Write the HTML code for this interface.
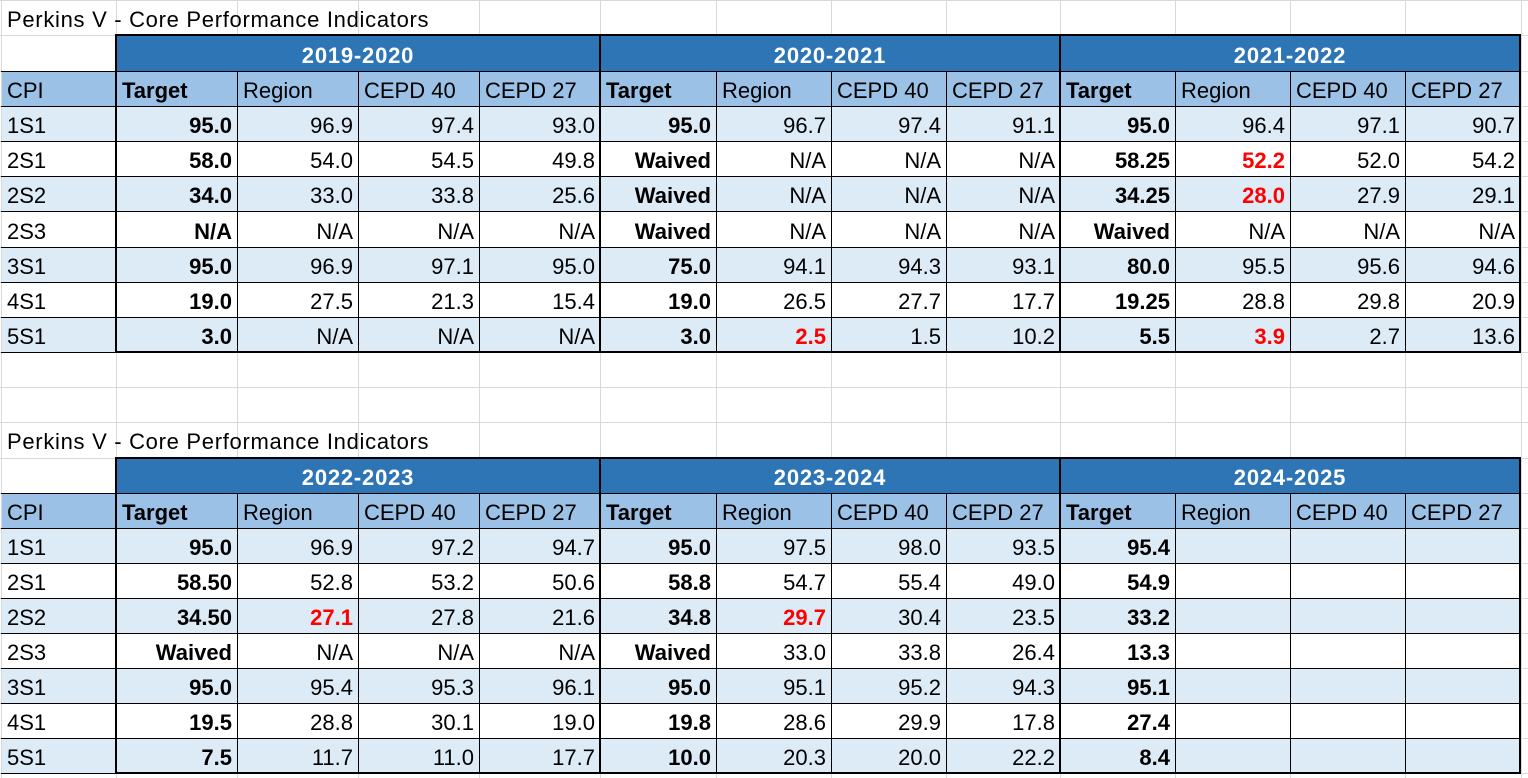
<!DOCTYPE html>
<html>
<head>
<meta charset="utf-8">
<style>
html,body{margin:0;padding:0;background:#fff;}
svg{display:block;}
text{font-family:"Liberation Sans",Arial,sans-serif;font-size:22px;fill:#000;}
.t{letter-spacing:0.7px;}
.b{font-weight:bold;}
.r{font-weight:bold;fill:#ff0000;}
.y{font-weight:bold;fill:#fff;letter-spacing:0.8px;}
</style>
</head>
<body>
<svg width="1528" height="778" xmlns="http://www.w3.org/2000/svg">
<rect width="1528" height="778" fill="#fff"/>
<!-- excel gridlines -->
<g fill="#d9d9d9" shape-rendering="crispEdges">
<rect x="0" y="0" width="1528" height="1"/>
<rect x="0" y="35" width="1528" height="1"/>
<rect x="0" y="71" width="1528" height="1"/>
<rect x="0" y="106" width="1528" height="1"/>
<rect x="0" y="141" width="1528" height="1"/>
<rect x="0" y="176" width="1528" height="1"/>
<rect x="0" y="211" width="1528" height="1"/>
<rect x="0" y="247" width="1528" height="1"/>
<rect x="0" y="282" width="1528" height="1"/>
<rect x="0" y="317" width="1528" height="1"/>
<rect x="0" y="352" width="1528" height="1"/>
<rect x="0" y="387" width="1528" height="1"/>
<rect x="0" y="422" width="1528" height="1"/>
<rect x="0" y="458" width="1528" height="1"/>
<rect x="0" y="493" width="1528" height="1"/>
<rect x="0" y="528" width="1528" height="1"/>
<rect x="0" y="563" width="1528" height="1"/>
<rect x="0" y="598" width="1528" height="1"/>
<rect x="0" y="633" width="1528" height="1"/>
<rect x="0" y="668" width="1528" height="1"/>
<rect x="0" y="703" width="1528" height="1"/>
<rect x="0" y="738" width="1528" height="1"/>
<rect x="0" y="773" width="1528" height="1"/>
<rect x="1" y="0" width="1" height="778"/>
<rect x="116" y="0" width="1" height="778"/>
<rect x="237" y="0" width="1" height="778"/>
<rect x="358" y="0" width="1" height="778"/>
<rect x="479" y="0" width="1" height="778"/>
<rect x="600" y="0" width="1" height="778"/>
<rect x="716" y="0" width="1" height="778"/>
<rect x="831" y="0" width="1" height="778"/>
<rect x="946" y="0" width="1" height="778"/>
<rect x="1060" y="0" width="1" height="778"/>
<rect x="1175" y="0" width="1" height="778"/>
<rect x="1290" y="0" width="1" height="778"/>
<rect x="1405" y="0" width="1" height="778"/>
<rect x="1521" y="0" width="1" height="778"/>
</g>
<!-- fills -->
<g shape-rendering="crispEdges">
<rect x="116" y="35" width="1404" height="36" fill="#2e75b6"/>
<rect x="2" y="71" width="1518" height="35" fill="#9bc2e6"/>
<rect x="2" y="106" width="1518" height="35" fill="#ddebf7"/>
<rect x="2" y="176" width="1518" height="35" fill="#ddebf7"/>
<rect x="2" y="247" width="1518" height="35" fill="#ddebf7"/>
<rect x="2" y="317" width="1518" height="35" fill="#ddebf7"/>
<rect x="116" y="458" width="1404" height="35" fill="#2e75b6"/>
<rect x="2" y="493" width="1518" height="35" fill="#9bc2e6"/>
<rect x="2" y="528" width="1518" height="35" fill="#ddebf7"/>
<rect x="2" y="598" width="1518" height="35" fill="#ddebf7"/>
<rect x="2" y="668" width="1518" height="35" fill="#ddebf7"/>
<rect x="2" y="738" width="1518" height="35" fill="#ddebf7"/>
</g>
<!-- borders upper -->
<g fill="#000" shape-rendering="crispEdges">
<rect x="115" y="34" width="1406" height="2"/>
<rect x="1" y="71" width="1519" height="1"/>
<rect x="1" y="106" width="1519" height="1"/>
<rect x="1" y="141" width="1519" height="1"/>
<rect x="1" y="176" width="1519" height="1"/>
<rect x="1" y="211" width="1519" height="1"/>
<rect x="1" y="247" width="1519" height="1"/>
<rect x="1" y="282" width="1519" height="1"/>
<rect x="1" y="317" width="1519" height="1"/>
<rect x="1" y="352" width="115" height="1"/>
<rect x="115" y="351" width="1406" height="2"/>
<rect x="115" y="34" width="2" height="319"/>
<rect x="599" y="34" width="2" height="319"/>
<rect x="1059" y="34" width="2" height="319"/>
<rect x="1519" y="34" width="2" height="319"/>
<rect x="237" y="71" width="1" height="281"/>
<rect x="358" y="71" width="1" height="281"/>
<rect x="479" y="71" width="1" height="281"/>
<rect x="716" y="71" width="1" height="281"/>
<rect x="831" y="71" width="1" height="281"/>
<rect x="946" y="71" width="1" height="281"/>
<rect x="1175" y="71" width="1" height="281"/>
<rect x="1290" y="71" width="1" height="281"/>
<rect x="1405" y="71" width="1" height="281"/>
<!-- borders lower -->
<rect x="115" y="457" width="1406" height="2"/>
<rect x="1" y="493" width="1519" height="1"/>
<rect x="1" y="528" width="1519" height="1"/>
<rect x="1" y="563" width="1519" height="1"/>
<rect x="1" y="598" width="1519" height="1"/>
<rect x="1" y="633" width="1519" height="1"/>
<rect x="1" y="668" width="1519" height="1"/>
<rect x="1" y="703" width="1519" height="1"/>
<rect x="1" y="738" width="1519" height="1"/>
<rect x="1" y="773" width="115" height="1"/>
<rect x="115" y="772" width="1406" height="2"/>
<rect x="115" y="457" width="2" height="317"/>
<rect x="599" y="457" width="2" height="317"/>
<rect x="1059" y="457" width="2" height="317"/>
<rect x="1519" y="457" width="2" height="317"/>
<rect x="237" y="493" width="1" height="280"/>
<rect x="358" y="493" width="1" height="280"/>
<rect x="479" y="493" width="1" height="280"/>
<rect x="716" y="493" width="1" height="280"/>
<rect x="831" y="493" width="1" height="280"/>
<rect x="946" y="493" width="1" height="280"/>
<rect x="1175" y="493" width="1" height="280"/>
<rect x="1290" y="493" width="1" height="280"/>
<rect x="1405" y="493" width="1" height="280"/>
</g>

<!-- ===== Upper table text ===== -->
<text class="t" x="7" y="27">Perkins V - Core Performance Indicators</text>
<g text-anchor="middle">
<text class="y" x="358" y="63">2019-2020</text>
<text class="y" x="830" y="63">2020-2021</text>
<text class="y" x="1290" y="63">2021-2022</text>
</g>
<text x="7" y="98">CPI</text>
<text class="b" x="122" y="98">Target</text>
<text x="243" y="98">Region</text>
<text x="364" y="98">CEPD 40</text>
<text x="485" y="98">CEPD 27</text>
<text class="b" x="606" y="98">Target</text>
<text x="722" y="98">Region</text>
<text x="837" y="98">CEPD 40</text>
<text x="952" y="98">CEPD 27</text>
<text class="b" x="1066" y="98">Target</text>
<text x="1181" y="98">Region</text>
<text x="1296" y="98">CEPD 40</text>
<text x="1411" y="98">CEPD 27</text>

<text x="7" y="133">1S1</text>
<text x="7" y="168">2S1</text>
<text x="7" y="203">2S2</text>
<text x="7" y="239">2S3</text>
<text x="7" y="274">3S1</text>
<text x="7" y="309">4S1</text>
<text x="7" y="344">5S1</text>

<g text-anchor="end">
<!-- 2019-2020 -->
<text class="b" x="232" y="133">95.0</text><text x="353" y="133">96.9</text><text x="474" y="133">97.4</text><text x="595" y="133">93.0</text>
<text class="b" x="232" y="168">58.0</text><text x="353" y="168">54.0</text><text x="474" y="168">54.5</text><text x="595" y="168">49.8</text>
<text class="b" x="232" y="203">34.0</text><text x="353" y="203">33.0</text><text x="474" y="203">33.8</text><text x="595" y="203">25.6</text>
<text class="b" x="232" y="239">N/A</text><text x="353" y="239">N/A</text><text x="474" y="239">N/A</text><text x="595" y="239">N/A</text>
<text class="b" x="232" y="274">95.0</text><text x="353" y="274">96.9</text><text x="474" y="274">97.1</text><text x="595" y="274">95.0</text>
<text class="b" x="232" y="309">19.0</text><text x="353" y="309">27.5</text><text x="474" y="309">21.3</text><text x="595" y="309">15.4</text>
<text class="b" x="232" y="344">3.0</text><text x="353" y="344">N/A</text><text x="474" y="344">N/A</text><text x="595" y="344">N/A</text>
<!-- 2020-2021 -->
<text class="b" x="711" y="133">95.0</text><text x="826" y="133">96.7</text><text x="941" y="133">97.4</text><text x="1055" y="133">91.1</text>
<text class="b" x="711" y="168">Waived</text><text x="826" y="168">N/A</text><text x="941" y="168">N/A</text><text x="1055" y="168">N/A</text>
<text class="b" x="711" y="203">Waived</text><text x="826" y="203">N/A</text><text x="941" y="203">N/A</text><text x="1055" y="203">N/A</text>
<text class="b" x="711" y="239">Waived</text><text x="826" y="239">N/A</text><text x="941" y="239">N/A</text><text x="1055" y="239">N/A</text>
<text class="b" x="711" y="274">75.0</text><text x="826" y="274">94.1</text><text x="941" y="274">94.3</text><text x="1055" y="274">93.1</text>
<text class="b" x="711" y="309">19.0</text><text x="826" y="309">26.5</text><text x="941" y="309">27.7</text><text x="1055" y="309">17.7</text>
<text class="b" x="711" y="344">3.0</text><text class="r" x="826" y="344">2.5</text><text x="941" y="344">1.5</text><text x="1055" y="344">10.2</text>
<!-- 2021-2022 -->
<text class="b" x="1170" y="133">95.0</text><text x="1285" y="133">96.4</text><text x="1400" y="133">97.1</text><text x="1515" y="133">90.7</text>
<text class="b" x="1170" y="168">58.25</text><text class="r" x="1285" y="168">52.2</text><text x="1400" y="168">52.0</text><text x="1515" y="168">54.2</text>
<text class="b" x="1170" y="203">34.25</text><text class="r" x="1285" y="203">28.0</text><text x="1400" y="203">27.9</text><text x="1515" y="203">29.1</text>
<text class="b" x="1170" y="239">Waived</text><text x="1285" y="239">N/A</text><text x="1400" y="239">N/A</text><text x="1515" y="239">N/A</text>
<text class="b" x="1170" y="274">80.0</text><text x="1285" y="274">95.5</text><text x="1400" y="274">95.6</text><text x="1515" y="274">94.6</text>
<text class="b" x="1170" y="309">19.25</text><text x="1285" y="309">28.8</text><text x="1400" y="309">29.8</text><text x="1515" y="309">20.9</text>
<text class="b" x="1170" y="344">5.5</text><text class="r" x="1285" y="344">3.9</text><text x="1400" y="344">2.7</text><text x="1515" y="344">13.6</text>
</g>

<!-- ===== Lower table text ===== -->
<text class="t" x="7" y="449">Perkins V - Core Performance Indicators</text>
<g text-anchor="middle">
<text class="y" x="358" y="485">2022-2023</text>
<text class="y" x="830" y="485">2023-2024</text>
<text class="y" x="1290" y="485">2024-2025</text>
</g>
<text x="7" y="520">CPI</text>
<text class="b" x="122" y="520">Target</text>
<text x="243" y="520">Region</text>
<text x="364" y="520">CEPD 40</text>
<text x="485" y="520">CEPD 27</text>
<text class="b" x="606" y="520">Target</text>
<text x="722" y="520">Region</text>
<text x="837" y="520">CEPD 40</text>
<text x="952" y="520">CEPD 27</text>
<text class="b" x="1066" y="520">Target</text>
<text x="1181" y="520">Region</text>
<text x="1296" y="520">CEPD 40</text>
<text x="1411" y="520">CEPD 27</text>

<text x="7" y="555">1S1</text>
<text x="7" y="590">2S1</text>
<text x="7" y="625">2S2</text>
<text x="7" y="660">2S3</text>
<text x="7" y="695">3S1</text>
<text x="7" y="730">4S1</text>
<text x="7" y="765">5S1</text>

<g text-anchor="end">
<!-- 2022-2023 -->
<text class="b" x="232" y="555">95.0</text><text x="353" y="555">96.9</text><text x="474" y="555">97.2</text><text x="595" y="555">94.7</text>
<text class="b" x="232" y="590">58.50</text><text x="353" y="590">52.8</text><text x="474" y="590">53.2</text><text x="595" y="590">50.6</text>
<text class="b" x="232" y="625">34.50</text><text class="r" x="353" y="625">27.1</text><text x="474" y="625">27.8</text><text x="595" y="625">21.6</text>
<text class="b" x="232" y="660">Waived</text><text x="353" y="660">N/A</text><text x="474" y="660">N/A</text><text x="595" y="660">N/A</text>
<text class="b" x="232" y="695">95.0</text><text x="353" y="695">95.4</text><text x="474" y="695">95.3</text><text x="595" y="695">96.1</text>
<text class="b" x="232" y="730">19.5</text><text x="353" y="730">28.8</text><text x="474" y="730">30.1</text><text x="595" y="730">19.0</text>
<text class="b" x="232" y="765">7.5</text><text x="353" y="765">11.7</text><text x="474" y="765">11.0</text><text x="595" y="765">17.7</text>
<!-- 2023-2024 -->
<text class="b" x="711" y="555">95.0</text><text x="826" y="555">97.5</text><text x="941" y="555">98.0</text><text x="1055" y="555">93.5</text>
<text class="b" x="711" y="590">58.8</text><text x="826" y="590">54.7</text><text x="941" y="590">55.4</text><text x="1055" y="590">49.0</text>
<text class="b" x="711" y="625">34.8</text><text class="r" x="826" y="625">29.7</text><text x="941" y="625">30.4</text><text x="1055" y="625">23.5</text>
<text class="b" x="711" y="660">Waived</text><text x="826" y="660">33.0</text><text x="941" y="660">33.8</text><text x="1055" y="660">26.4</text>
<text class="b" x="711" y="695">95.0</text><text x="826" y="695">95.1</text><text x="941" y="695">95.2</text><text x="1055" y="695">94.3</text>
<text class="b" x="711" y="730">19.8</text><text x="826" y="730">28.6</text><text x="941" y="730">29.9</text><text x="1055" y="730">17.8</text>
<text class="b" x="711" y="765">10.0</text><text x="826" y="765">20.3</text><text x="941" y="765">20.0</text><text x="1055" y="765">22.2</text>
<!-- 2024-2025 -->
<text class="b" x="1170" y="555">95.4</text>
<text class="b" x="1170" y="590">54.9</text>
<text class="b" x="1170" y="625">33.2</text>
<text class="b" x="1170" y="660">13.3</text>
<text class="b" x="1170" y="695">95.1</text>
<text class="b" x="1170" y="730">27.4</text>
<text class="b" x="1170" y="765">8.4</text>
</g>
</svg>
</body>
</html>
